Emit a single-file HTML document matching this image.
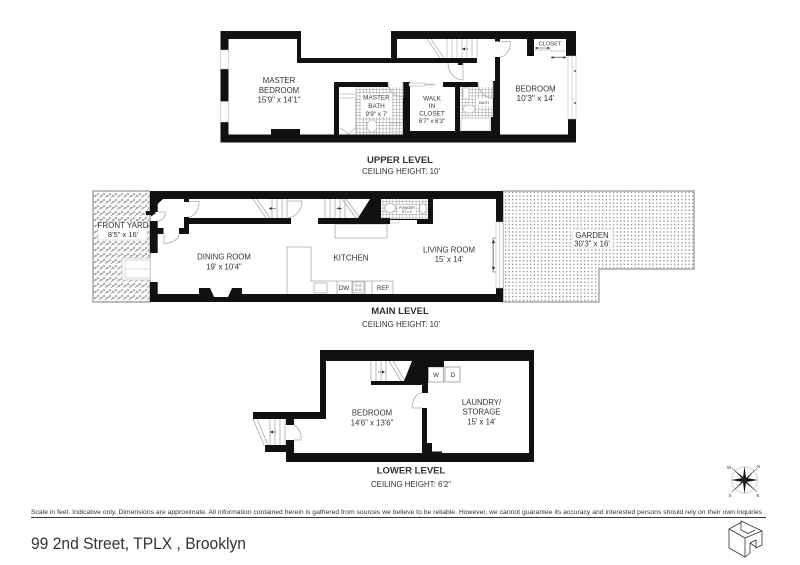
<!DOCTYPE html>
<html><head><meta charset="utf-8">
<style>html,body{margin:0;padding:0;background:#fff}svg{display:block}
text{font-family:"Liberation Sans",sans-serif;fill:#333;text-anchor:middle}</style></head>
<body>
<svg width="800" height="565" viewBox="0 0 800 565" xmlns="http://www.w3.org/2000/svg">
<defs>
<pattern id="dots" width="3.6" height="3.6" patternUnits="userSpaceOnUse"><rect x="1" y="1" width="1.1" height="1.1" fill="#666"/></pattern>
<pattern id="hatch" width="6" height="6" patternUnits="userSpaceOnUse"><path d="M0 4L3 1M3 6L6 3" stroke="#888" stroke-width=".7"/><path d="M1 1l2 2M4 3l2 2" stroke="#999" stroke-width=".6"/></pattern>
<pattern id="tile" width="3.3" height="3.3" patternUnits="userSpaceOnUse"><path d="M0 0H3.3M0 0V3.3" stroke="#777" stroke-width=".7"/></pattern>
</defs>
<rect width="800" height="565" fill="#fff"/>

<!-- yards -->
<path d="M93 191H150V302H93Z" fill="url(#hatch)" stroke="#aaa" stroke-width="1.500"/>
<rect x="98" y="221.500" width="49" height="18.500" fill="#fff" stroke="#ccc" stroke-width=".6"/>
<rect x="122" y="258" width="28" height="22" fill="#fff" stroke="#ccc" stroke-width=".8"/>
<rect x="125" y="260" width="25" height="18" fill="#fff" stroke="#ccc" stroke-width=".8"/>
<path d="M125 269H150" stroke="#ccc" stroke-width=".8"/>
<path d="M503 191H694V269H599V302H503Z" fill="url(#dots)" stroke="#aaa" stroke-width="1.500"/>
<rect x="573" y="229" width="40" height="19" fill="#fff" stroke="#ddd" stroke-width=".5"/>

<!-- UPPER -->
<rect x="339" y="87" width="64" height="48" fill="url(#tile)"/>
<rect x="339" y="87" width="16" height="48" fill="#fff"/>
<rect x="460" y="87" width="33" height="30" fill="url(#tile)"/>
<rect x="361" y="94" width="31" height="23" fill="#fff"/>
<rect x="476" y="99" width="16" height="7" fill="#fff"/>
<g fill="none" stroke="#bbb" stroke-width=".8">
<path d="M340 94H356M340 98H356V134M340 128L349 134L356 127"/>
<rect x="390" y="123" width="13" height="9"/>
<ellipse cx="372" cy="126" rx="5" ry="6" fill="#fff"/>
<rect x="461" y="118" width="29" height="13" fill="#fff"/>
<rect x="463" y="88" width="6" height="11" fill="#fff"/>
<ellipse cx="469" cy="109" rx="6" ry="4" fill="#fff"/>
<path d="M427 39L440 58M431 39L444 58M447 39V58M452 39V58M457 39V58M462 39V58M467 39V58M472 39V58M477 39V58"/>
<path d="M535 50H551V51M551 51H566M551 57H566"/>
</g>
<path d="M462 49h6M535 48h15M551 57.500h15" stroke="#333" stroke-width=".6" fill="none"/>
<path d="M462 49l3-1.500v3zM535 48l2.500-1.300v2.600zM550 48l-2.500-1.300v2.600zM551 57.500l2.500-1.300v2.600zM566 57.500l-2.500-1.300v2.600z" fill="#222"/>

<path fill="#111" d="M220.500 31H301V58H391V31H576V56H568V39H566V51H576V56H566V51H568V39H534V56H527V39H397V58H477V63H297V39H228.500V50H220.500ZM220.500 69H228.500V101.500H220.500ZM220.500 122H228.500V134.500H271V129H300V134.500H334V82H388V87H339V134.500H403V82H410V131H455V82H443V87H478V87H460V131H491V117H493V81H495V57H500V134.500H568V119H576V142.500H220.500Z"/>
<rect x="455" y="82" width="5" height="53" fill="#111"/>
<rect x="443" y="82" width="35" height="5" fill="#111"/>
<rect x="403" y="82" width="7" height="5" fill="#111"/>
<rect x="495" y="39" width="5" height="2.500" fill="#111"/>
<rect x="458" y="63" width="5" height="2" fill="#111"/>
<path d="M220.500 50H228.500V69H220.500ZM220.500 101.500H228.500V122H220.500ZM568 56H576V119H568Z" fill="#fff" stroke="#bbb" stroke-width=".6"/>
<rect x="409" y="83" width="16" height="3" fill="#fff" stroke="#999" stroke-width=".5"/>
<path d="M425 84.500H435" stroke="#bbb" stroke-width="1.500"/>
<path d="M572 56V119" stroke="#bbb" stroke-width=".6"/>
<path d="M574 71h2M574 103h2" stroke="#111" stroke-width="1"/>
<g fill="none" stroke="#aaa" stroke-width=".8">
<path d="M500 41.500H510.500A10.500 15.500 0 0 1 500 57"/>
<path d="M463 63V80A15 17 0 0 1 448 63"/>
<path d="M493 82V98A15 16 0 0 1 478 82"/>
<path d="M403 82V97A15 15 0 0 1 388 82"/>
</g>

<g font-size="7.800">
<text x="279" y="83">MASTER</text>
<text x="279" y="93">BEDROOM</text>
<text x="279" y="102.500" textLength="43" lengthAdjust="spacingAndGlyphs">15'9" x 14'1"</text>
<text x="535.500" y="91.500">BEDROOM</text>
<text x="535.500" y="101" textLength="38" lengthAdjust="spacingAndGlyphs">10'3" x 14'</text>
<text x="432" y="100.500" font-size="6.400">WALK</text>
<text x="432" y="108" font-size="6.400">IN</text>
<text x="432" y="115.500" font-size="6.400">CLOSET</text>
<text x="432" y="123" font-size="6">6'7" x 6'3"</text>
<text x="376.500" y="99.500" font-size="6.400">MASTER</text>
<text x="376.500" y="108" font-size="6.400">BATH</text>
<text x="376.500" y="116" font-size="6.400">9'9" x 7'</text>
<text x="550" y="45.500" font-size="5.700">CLOSET</text>
<text x="484" y="104" font-size="3.800">BATH</text>
</g>
<text x="400" y="163" font-size="9.500" font-weight="bold" fill="#111">UPPER LEVEL</text>
<text x="401" y="174" font-size="8" textLength="78" lengthAdjust="spacingAndGlyphs">CEILING HEIGHT: 10'</text>

<!-- MAIN -->
<rect x="381" y="199" width="47" height="20" fill="url(#tile)"/>
<rect x="398" y="205" width="18" height="9" fill="#fff"/>
<g fill="none" stroke="#aaa" stroke-width=".8">
<ellipse cx="390" cy="208" rx="5.500" ry="4.500" fill="#fff"/>
<ellipse cx="423" cy="208.500" rx="3.500" ry="5" fill="#fff"/>
<rect x="335" y="224" width="52" height="14"/>
<path d="M287 294V247H311V281H393V294M314 283H327V293H314ZM337 281V294M352 281V294M365 281V294M372 281V294"/>
<rect x="353" y="282" width="11" height="11"/>
<circle cx="356.500" cy="285.500" r="1"/><circle cx="360.500" cy="285.500" r="1"/><circle cx="356.500" cy="290" r="1"/><circle cx="360.500" cy="290" r="1"/>
<path d="M253 199L266 218M257 199L270 218M272 199V218M277 199V218M282 199V218M287 199V218"/>
<path d="M325 199V218M330 199V218M335 199V218M340 199V218M345 199V218M342 199L356 218M346 199L360 218"/>
</g>
<path d="M270 208.500h6M336 208.500h6" stroke="#333" stroke-width=".6"/>
<path d="M269 208.500l2.500-1.500v3zM341 208.500l-2.500-1.500v3z" fill="#222"/>
<path fill="#111" d="M150 191H503V222H496V199H163L157.700 204V212H150ZM150 221H157.700V228H163.500V234H157.700V253H150ZM150 282H157.700V294H199V288H210L214 297H228L232 288H242V294H496V288H503V302H150ZM184 217H189V218H291V224H189V234H179V228H184ZM318 218H358L370 199H381V224H318ZM417 219H428V199H433V224H417Z"/>
<rect x="184" y="199" width="5" height="3" fill="#111"/>
<rect x="390" y="219" width="9" height="4" fill="#fff" stroke="#aaa" stroke-width=".5"/>
<rect x="381" y="218" width="9" height="6" fill="#111"/>
<rect x="399" y="219" width="18" height="1" fill="#111"/>
<rect x="390" y="219" width="27" height="1" fill="#111"/>
<path d="M496 222H503V288H496ZM499.500 222V288" fill="#fff" stroke="#bbb" stroke-width=".6"/>
<path d="M496 238H493V272H496" fill="none" stroke="#555" stroke-width=".6"/>
<path d="M493.500 240l-1.500 3h3zM493.500 270l-1.500-3h3zM493.500 242V268" fill="#222" stroke="#555" stroke-width=".3"/>
<path d="M146 211H151V209.500L156 213L151 216.500V215H146Z" fill="#111"/>
<g fill="none" stroke="#aaa" stroke-width=".8">
<path d="M157.700 212H165.500A8 9 0 0 1 157.700 221"/>
<path d="M189 201.500H199A11 15 0 0 1 189 217"/>
<path d="M164 234V243.500A15 10 0 0 0 179 234"/>
<path d="M287 201H302A15 17 0 0 1 287 218"/>
</g>
<g font-size="7.800">
<text x="123" y="228" font-size="8">FRONT YARD</text>
<text x="123" y="237" font-size="7.500">8'5" x 16'</text>
<text x="224" y="259.500">DINING ROOM</text>
<text x="224" y="269.500">19' x 10'4"</text>
<text x="351" y="260.500" font-size="8">KITCHEN</text>
<text x="449" y="252.700">LIVING ROOM</text>
<text x="449" y="262">15' x 14'</text>
<text x="592" y="238">GARDEN</text>
<text x="592" y="246.500">30'3" x 16'</text>
<text x="344" y="290" font-size="6.200">DW</text>
<text x="383" y="290" font-size="6.200">REF</text>
<text x="407" y="209" font-size="3.500">POWDER</text>
<text x="407" y="213" font-size="3.200">5'7 x 3'</text>
</g>
<text x="400" y="314" font-size="9.500" font-weight="bold" fill="#111">MAIN LEVEL</text>
<text x="401" y="327" font-size="8" textLength="78" lengthAdjust="spacingAndGlyphs">CEILING HEIGHT: 10'</text>

<!-- LOWER -->
<g fill="none" stroke="#aaa" stroke-width=".8">
<path d="M371 361V381M376 361V381M381 361V381M386 361V381M389 361L401 381M393 361L405 381"/>
<path d="M253 419L264 445M257 419L268 445M270 419V445M275 419V445M280 419V445M285 419V445"/>
<path d="M294 425A15 15 0 0 1 301 440H294"/>
<path d="M422 393A10 15 0 0 0 412 408H422"/>
<rect x="428.500" y="367" width="15" height="15" stroke="#999"/>
<rect x="445" y="367" width="15" height="15" stroke="#999"/>
</g>
<path fill="#111" d="M320 350H534V462H286V440H294V453H422V408H427V443H432V451.500H442V453H529V361H444V367H428V393H422V385H371V381H404L412 361H326V419H294V425H286V419H253V412H320Z"/>
<rect x="265" y="445" width="28" height="7" fill="#111"/>
<path d="M378 372h5M270 432h6" stroke="#222" stroke-width=".5"/>
<path d="M385 372l-3-1.500v3zM270 432l3-1.500v3z" fill="#222"/>
<g font-size="7.800">
<text x="372" y="415.500">BEDROOM</text>
<text x="372" y="425.500">14'6" x 13'6"</text>
<text x="481.500" y="405">LAUNDRY/</text>
<text x="481.500" y="414.500">STORAGE</text>
<text x="481.500" y="424.500">15' x 14'</text>
<text x="436" y="377" font-size="6.200">W</text>
<text x="453" y="377" font-size="6.200">D</text>
</g>
<text x="411" y="473.500" font-size="9.500" font-weight="bold" fill="#111">LOWER LEVEL</text>
<text x="411" y="487" font-size="8" textLength="80" lengthAdjust="spacingAndGlyphs">CEILING HEIGHT: 6'2"</text>

<!-- compass -->
<circle cx="744.500" cy="480" r="13" fill="none" stroke="#e4e4e4" stroke-width="2"/>
<path d="M732 468L744.500 480L757 468M732 492L744.500 480L757 492" fill="none" stroke="#555" stroke-width=".6"/>
<path d="M744.500 466L746 478L758 480L746 482L744.500 494L743 482L731 480L743 478Z" fill="#111"/>
<path d="M735 470.500L745.500 479L754 470.500L746 481L754 489.500L744 481.500L735 489.500L743 480Z" fill="#222"/>
<text x="729" y="469" font-size="4.500">W</text><text x="758.500" y="468" font-size="4.500">N</text><text x="730" y="497" font-size="4.500">S</text><text x="758" y="497" font-size="4.500">E</text>

<!-- footer -->
<text x="398.500" y="514" font-size="6.300" textLength="735" lengthAdjust="spacingAndGlyphs">Scale in feet. Indicative only. Dimensions are approximate. All information contained herein is gathered from sources we believe to be reliable. However, we cannot guarantee its accuracy and interested persons should rely on their own inquiries .</text>
<rect x="31" y="517" width="735" height=".9" fill="#222"/>
<text x="138.500" y="549" font-size="17" textLength="215" lengthAdjust="spacingAndGlyphs" fill="#222">99 2nd Street, TPLX , Brooklyn</text>
<!-- logo -->
<g fill="none" stroke="#333" stroke-width=".8" stroke-linejoin="round">
<path d="M729 529L745 538V557L729 548Z"/>
<path d="M729 529L741 522.500V521L762 531V545L756 548V540L750 543V553L745 557"/>
<path d="M745 538L762 531M741 521V530L748 533.500L755 530M750 543L756 547"/>
</g>
</svg>
</body></html>
